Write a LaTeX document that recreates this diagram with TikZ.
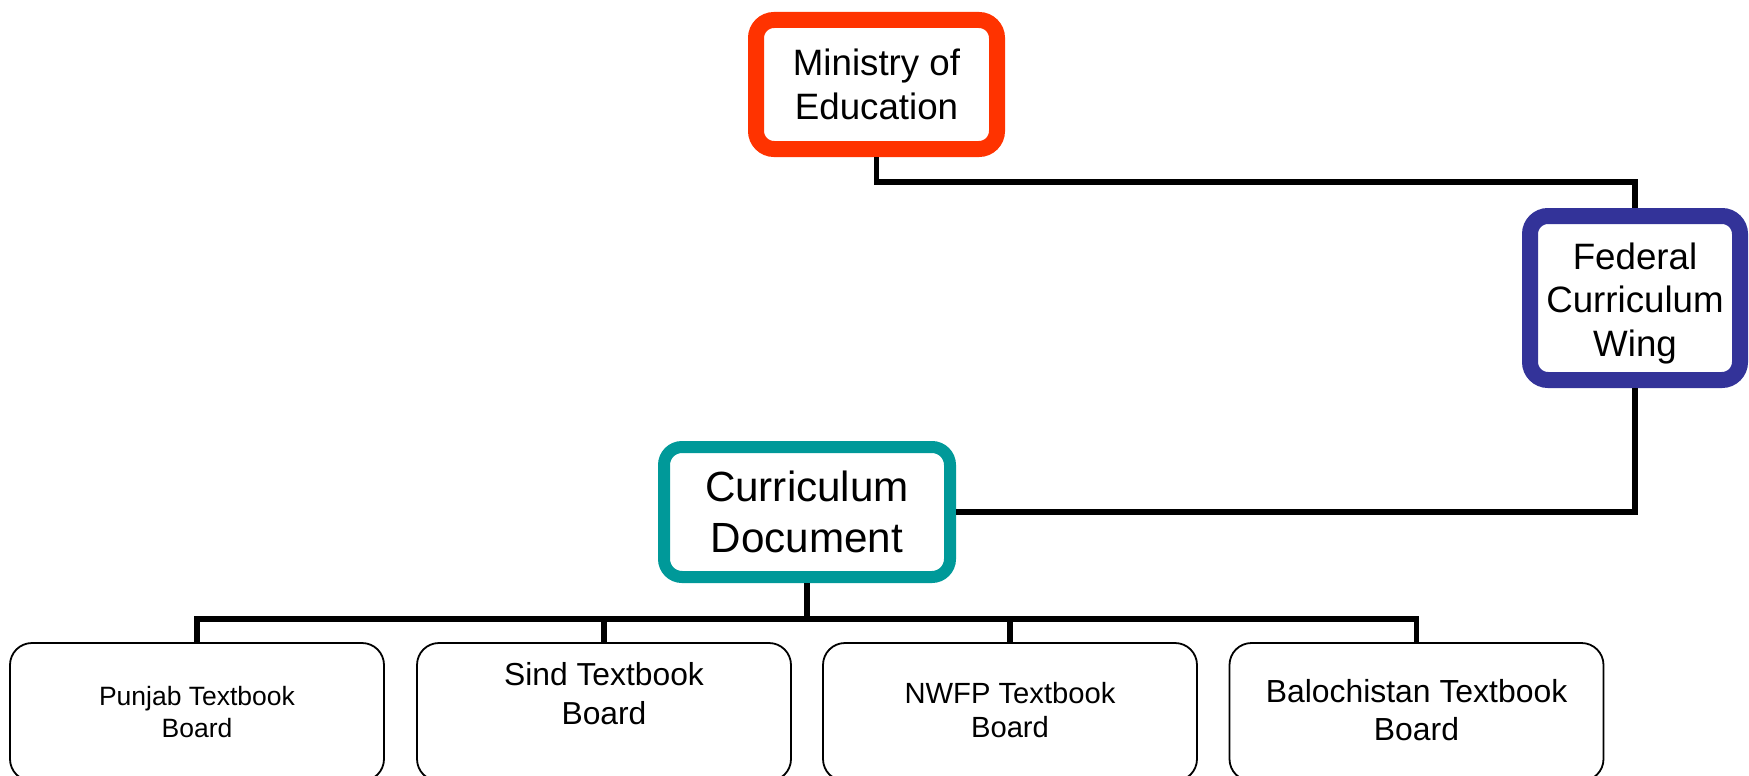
\documentclass[tikz,border=0pt]{standalone}
\usepackage{fontspec}
\setmainfont{Liberation Sans}
\definecolor{minred}{HTML}{FF3300}
\definecolor{fedblue}{HTML}{333399}
\definecolor{curteal}{HTML}{009999}
\begin{document}
\begin{tikzpicture}[x=1pt,y=-1pt,
  bigbox/.style={draw, rounded corners=18pt, fill=white, align=center, inner sep=0pt},
  board/.style={draw, line width=1.8pt, rounded corners=22pt, fill=white, minimum width=374pt, minimum height=138pt, inner sep=0pt},
  boardtext/.style={align=center, inner sep=0pt},
  link/.style={line width=5.5pt}]
\useasboundingbox (0,0) rectangle (1749,776);
\clip (0,0) rectangle (1749,776);
\node[bigbox, draw=minred, line width=16pt, minimum width=241pt, minimum height=129pt, font=\fontsize{36.7}{44.5}\selectfont] (min) at (876.5,84.5) {Ministry of\\Education};
\node[bigbox, draw=fedblue, line width=16pt, minimum width=210pt, minimum height=164pt] (fed) at (1635,298) {};
\node[boardtext, font=\fontsize{36.7}{43.5}\selectfont] (fedt) at (1635,303.5) {Federal\\Curriculum\\Wing};
\node[bigbox, draw=curteal, line width=12pt, minimum width=286pt, minimum height=130pt, font=\fontsize{42.2}{51}\selectfont] (cur) at (807,512) {Curriculum\\Document};
\node[board] (punjab) at (197,712) {};
\node[board] (sind) at (604,712) {};
\node[board] (nwfp) at (1010,712) {};
\node[board] (baloch) at (1416.5,712) {};
\node[boardtext, font=\fontsize{26.5}{32}\selectfont] (punjabt) at (197,712) {Punjab Textbook\\Board};
\node[boardtext, font=\fontsize{31.8}{39}\selectfont] (sindt) at (604,693.5) {Sind Textbook\\Board};
\node[boardtext, font=\fontsize{29.2}{34}\selectfont] (nwfpt) at (1010,710) {NWFP Textbook\\Board};
\node[boardtext, font=\fontsize{31.9}{38}\selectfont] (balt) at (1416.5,710) {Balochistan Textbook\\Board};
\coordinate (j1) at (1635,182);
\coordinate (bus) at (807,619);
\draw[link] (min.south) |- (j1) -- (fed.north);
\draw[link] (fed.south) |- (cur.east);
\draw[link] (cur.south) -- (bus);
\draw[link] (punjab.north) |- (bus) -| (baloch.north);
\draw[link] (sind.north) -- (sind.north |- bus);
\draw[link] (nwfp.north) -- (nwfp.north |- bus);
\end{tikzpicture}
\end{document}
